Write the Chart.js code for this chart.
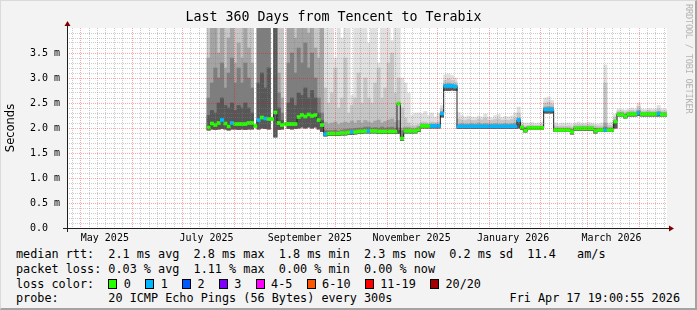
<!DOCTYPE html>
<html>
<head>
<meta charset="utf-8">
<title>Last 360 Days from Tencent to Terabix</title>
<script src="https://cdn.jsdelivr.net/npm/chart.js@4.4.1/dist/chart.umd.min.js"></script>
<style>
  html, body { margin: 0; padding: 0; }
  body { width: 697px; height: 310px; background: #f3f3f3; position: relative; overflow: hidden; }
  #frame { position: absolute; left: 0; top: 0; width: 697px; height: 310px; box-sizing: border-box;
           border-top: 1px solid #dadada; border-left: 1px solid #dadada;
           border-right: 2px solid #a3a3a3; border-bottom: 2px solid #a3a3a3; pointer-events: none; }
  #chart { position: absolute; left: 0; top: 0; }
  #legend { position: absolute; left: 16px; top: 247px; font-family: "DejaVu Sans Mono", monospace;
            font-size: 11.8px; line-height: 14.8px; white-space: pre; color: #000; }
  #legend .box { display: inline-block; box-sizing: border-box; width: 9px; height: 10px; border: 1px solid #000;
                 margin-right: 6.5px; vertical-align: -1px; }
  #stamp { position: absolute; right: 17px; top: 291px; font-family: "DejaVu Sans Mono", monospace;
           font-size: 11.8px; line-height: 14.8px; white-space: pre; color: #000; }
  #watermark { position: absolute; left: 684px; top: 4px; writing-mode: vertical-rl;
               font-family: "DejaVu Sans Mono", monospace; font-size: 8.6px; letter-spacing: -0.2px; color: #b4b4b4; }
</style>
</head>
<body>
<canvas id="chart" width="697" height="245"></canvas>
<div id="legend"></div>
<div id="stamp"></div>
<div id="watermark">RRDTOOL / TOBI OETIKER</div>
<div id="frame"></div>
<script>
"use strict";

/* global Chart */

// ===========================
// DATA
// ===========================
const TITLE = "Last 360 Days from Tencent to Terabix";
const GRAPH_START = new Date(2025, 3, 22, 19, 0, 55);   // 360 days before the stamp
const GRAPH_DAYS = 360;

// column centres, days since GRAPH_START
const DAYS = [
    85, 87, 89, 91, 93, 95, 97, 99, 101, 103, 105, 107, 109, 111,
    113, 115, 117, 119, 121, 123, 125, 127, 129, 131,
    133, 135, 137, 139, 141, 143, 145, 147, 149, 151, 153,
    155, 157, 159, 161, 163, 165, 167, 169, 171, 173, 175, 177,
    179, 181, 183, 185, 187, 189, 191, 193, 195, 197, 199, 201,
    203, 205, 207, 209, 211, 213, 215, 217, 219, 221, 223, 225,
    227, 229, 231, 233,
    235, 237, 239, 241, 243, 245, 247, 249, 251, 253, 255, 257, 259, 261, 263, 265, 267, 269,
    271,
    273, 275, 277, 279, 281, 283, 285,
    287, 289, 291,
    293, 295, 297, 299, 301, 303,
    305, 307, 309, 311, 313, 315, 317,
    319, 321, 323, 325, 327, 329,
    331, 333, 335, 337, 339, 341, 343, 345, 347, 349, 351, 353, 355, 357, 359
];

// median rtt, ms
const MEDIAN = [
    2.01, 2.09, 2.06, 2.10, 2.16, 2.09, 2.03, 2.10, 2.08, 2.08, 2.08, 2.08, 2.10, 2.10,
    2.04, 2.16, 2.21, 2.19, 2.18, 2.18, 2.31, 2.10, 2.06, 2.08,
    2.08, 2.08, 2.08, 2.22, 2.26, 2.23, 2.27, 2.24, 2.26, 2.16, 2.06,
    1.88, 1.89, 1.89, 1.89, 1.89, 1.90, 1.90, 1.91, 1.92, 1.92, 1.93, 1.93,
    1.94, 1.94, 1.94, 1.94, 1.93, 1.93, 1.93, 1.93, 1.93, 1.93, 2.49, 1.79,
    1.94, 1.94, 1.94, 1.94, 1.97, 2.04, 2.04, 2.04, 2.04, 2.04, 2.04, 2.29,
    2.84, 2.84, 2.84, 2.83,
    2.03, 2.03, 2.03, 2.03, 2.03, 2.03, 2.03, 2.03, 2.03, 2.03, 2.03, 2.03, 2.03, 2.03, 2.03, 2.03, 2.03, 2.03,
    2.16,
    2.01, 1.95, 2.00, 2.00, 2.00, 2.00, 2.00,
    2.37, 2.37, 2.37,
    1.96, 1.96, 1.96, 1.96, 1.96, 1.92,
    1.99, 1.99, 1.99, 1.99, 1.99, 1.99, 1.94,
    1.96, 1.96, 1.96, 1.96, 1.96, 2.13,
    2.27, 2.27, 2.23, 2.28, 2.28, 2.28, 2.30, 2.28, 2.28, 2.28, 2.28, 2.28, 2.29, 2.27, 2.27
];

// lost pings out of 20
const LOSS = [
    0, 0, 0, 0, 1, 0, 0, 1, 0, 0, 0, 0, 0, 0,
    0, 1, 0, 1, 0, 0, 0, 0, 0, 0,
    0, 0, 0, 0, 0, 0, 0, 0, 0, 0, 0,
    1, 0, 0, 0, 0, 0, 0, 0, 1, 0, 0, 0,
    0, 1, 0, 0, 0, 0, 0, 0, 0, 0, 0, 0,
    0, 0, 0, 0, 0, 0, 0, 0, 1, 1, 1, 1,
    1, 1, 1, 1,
    1, 1, 1, 1, 1, 1, 1, 1, 1, 1, 1, 1, 1, 1, 1, 1, 1, 1,
    1,
    0, 0, 0, 0, 0, 0, 0,
    1, 1, 1,
    0, 0, 0, 0, 0, 0,
    0, 0, 0, 0, 0, 0, 0,
    0, 0, 1, 0, 0, 0,
    0, 0, 0, 0, 0, 0, 1, 0, 0, 0, 0, 0, 1, 0, 0
];

// smoke: lowest ping, then tops of five bands (dark -> light); null = no smoke
const SMOKE_LO = [
    1.96, 1.98, 1.97, 1.98, 1.99, 1.98, 1.96, 1.98, 1.98, 1.97, 1.98, 1.97, 1.98, 1.98,
    null, 1.98, 2.00, 1.99, 1.98, null, 1.82, 1.97, 1.98, null,
    1.99, 1.98, 1.99, 2.00, 2.02, 2.00, 2.02, 2.00, 2.02, 1.98, 1.93,
    1.84, 1.85, 1.85, 1.85, 1.85, 1.86, 1.86, 1.87, 1.87, 1.88, 1.89, 1.89,
    1.90, 1.90, 1.90, 1.90, 1.89, 1.89, 1.89, 1.89, 1.89, 1.89, 1.89, 1.75,
    1.90, 1.90, 1.90, 1.90, 1.93, 2.00, 2.00, 2.00, 2.00, 2.00, 2.00, 2.22,
    2.75, 2.75, 2.76, 2.75,
    1.99, 1.99, 1.99, 1.99, 1.99, 1.99, 1.99, 1.99, 1.99, 1.99, 1.99, 1.99, 1.99, 1.99, 1.99, 1.99, 1.99, 1.99,
    2.00,
    1.97, 1.92, 1.97, 1.97, 1.97, 1.97, 1.97,
    2.30, 2.30, 2.30,
    1.93, 1.93, 1.93, 1.93, 1.93, 1.88,
    1.95, 1.95, 1.95, 1.95, 1.95, 1.95, 1.90,
    1.93, 1.93, 1.93, 1.93, 1.93, 2.00,
    2.24, 2.24, 2.20, 2.24, 2.24, 2.24, 2.25, 2.24, 2.24, 2.24, 2.24, 2.24, 2.24, 2.24, 2.24
];

const SMOKE_T1 = [
    2.25, 2.35, 2.30, 2.50, 2.60, 2.45, 2.40, 2.50, 2.35, 2.45, 2.40, 2.50, 2.40, 2.30,
    null, 2.90, 3.10, 2.80, 3.20, null, 4.00, 2.40, 2.15, null,
    2.50, 2.60, 2.45, 2.70, 2.65, 2.80, 2.60, 2.75, 2.60, 2.30, 2.15,
    1.92, 1.92, 1.91, 1.92, 1.91, 1.92, 1.93, 1.93, 1.94, 1.94, 1.95, 1.95,
    1.96, 1.96, 1.96, 1.96, 1.95, 1.95, 1.95, 1.95, 1.95, 1.95, 1.95, 1.82,
    1.95, 1.95, 1.95, 1.95, 1.98, 2.04, 2.04, 2.04, 2.04, 2.04, 2.04, 2.27,
    2.82, 2.82, 2.82, 2.80,
    2.03, 2.03, 2.03, 2.03, 2.03, 2.03, 2.03, 2.03, 2.03, 2.03, 2.03, 2.03, 2.03, 2.03, 2.03, 2.03, 2.03, 2.03,
    2.10,
    2.01, 1.98, 2.00, 2.00, 2.00, 2.00, 2.00,
    2.36, 2.36, 2.36,
    1.97, 1.97, 1.97, 1.97, 1.97, 1.94,
    1.99, 1.99, 1.99, 1.99, 1.99, 1.99, 1.96,
    1.97, 1.97, 1.98, 1.97, 1.97, 2.10,
    2.27, 2.27, 2.25, 2.28, 2.28, 2.28, 2.30, 2.28, 2.28, 2.28, 2.28, 2.28, 2.29, 2.27, 2.27
];

const SMOKE_T2 = [
    2.60, 2.90, 3.20, 3.00, 3.30, 2.80, 3.10, 3.40, 2.90, 3.20, 2.90, 3.30, 3.00, 2.80,
    null, 4.00, 4.00, 4.00, 4.00, null, 4.00, 2.70, 2.30, null,
    3.30, 3.50, 3.10, 3.60, 3.30, 3.70, 3.20, 3.50, 3.00, 2.60, 2.30,
    1.96, 1.95, 1.95, 1.96, 1.94, 1.96, 1.97, 1.98, 1.98, 1.99, 2.00, 2.00,
    2.02, 2.02, 2.00, 2.01, 2.00, 2.02, 2.00, 2.01, 2.02, 2.00, 2.00, 1.95,
    1.98, 1.98, 1.97, 1.97, 2.00, 2.06, 2.06, 2.06, 2.06, 2.06, 2.06, 2.30,
    2.86, 2.86, 2.86, 2.85,
    2.06, 2.06, 2.06, 2.06, 2.06, 2.06, 2.06, 2.06, 2.06, 2.06, 2.06, 2.06, 2.06, 2.06, 2.06, 2.06, 2.06, 2.06,
    2.15,
    2.03, 2.00, 2.02, 2.02, 2.02, 2.02, 2.02,
    2.40, 2.40, 2.40,
    1.99, 1.99, 1.99, 1.99, 1.99, 1.97,
    2.01, 2.01, 2.01, 2.01, 2.01, 2.01, 1.99,
    1.99, 1.99, 2.02, 1.99, 1.99, 2.14,
    2.29, 2.29, 2.27, 2.30, 2.30, 2.30, 2.33, 2.30, 2.30, 2.30, 2.30, 2.30, 2.31, 2.29, 2.29
];

const SMOKE_T3 = [
    3.40, 4.00, 4.00, 3.50, 4.00, 3.20, 3.80, 4.00, 3.30, 3.70, 3.40, 4.00, 3.60, 3.30,
    null, 4.00, 4.00, 4.00, 4.00, null, 4.00, 3.10, 2.60, null,
    4.00, 4.00, 3.80, 4.00, 4.00, 4.00, 3.90, 4.00, 3.60, 3.40, 4.00,
    2.12, 2.08, 2.10, 2.12, 2.07, 2.10, 2.12, 2.10, 2.14, 2.10, 2.15, 2.10,
    2.15, 2.12, 2.10, 2.14, 2.16, 2.10, 2.13, 2.16, 2.18, 2.12, 2.15, 2.00,
    2.02, 2.02, 2.00, 2.00, 2.03, 2.08, 2.08, 2.07, 2.08, 2.08, 2.08, 2.33,
    2.88, 2.90, 2.88, 2.86,
    2.08, 2.09, 2.08, 2.08, 2.09, 2.08, 2.10, 2.08, 2.09, 2.08, 2.08, 2.09, 2.08, 2.08, 2.09, 2.08, 2.09, 2.10,
    2.20,
    2.04, 2.01, 2.03, 2.03, 2.03, 2.03, 2.03,
    2.42, 2.43, 2.42,
    2.00, 2.00, 2.00, 2.00, 2.00, 1.98,
    2.03, 2.03, 2.03, 2.03, 2.03, 2.03, 2.00,
    2.00, 2.00, 2.10, 2.01, 2.01, 2.16,
    2.31, 2.31, 2.28, 2.31, 2.32, 2.31, 2.36, 2.31, 2.31, 2.32, 2.31, 2.31, 2.33, 2.31, 2.31
];

const SMOKE_T4 = [
    4.00, 4.00, 4.00, 4.00, 4.00, 4.00, 4.00, 4.00, 4.00, 4.00, 4.00, 4.00, 4.00, 4.00,
    null, 4.00, 4.00, 4.00, 4.00, null, 4.00, 4.00, 4.00, null,
    4.00, 4.00, 4.00, 4.00, 4.00, 4.00, 4.00, 4.00, 4.00, 4.00, 4.00,
    2.80, 2.50, 2.70, 3.20, 2.40, 2.60, 3.40, 2.30, 2.45, 2.60, 3.10, 2.50,
    3.00, 2.60, 2.50, 2.90, 3.20, 2.60, 2.80, 3.30, 3.50, 2.70, 3.00, 2.40,
    2.20, 2.10, 2.05, 2.05, 2.07, 2.12, 2.12, 2.10, 2.12, 2.11, 2.12, 2.38,
    2.95, 2.98, 2.95, 2.92,
    2.18, 2.16, 2.15, 2.17, 2.15, 2.15, 2.18, 2.16, 2.20, 2.15, 2.15, 2.17, 2.18, 2.15, 2.16, 2.15, 2.17, 2.20,
    2.30,
    2.07, 2.04, 2.05, 2.06, 2.05, 2.05, 2.07,
    2.50, 2.52, 2.48,
    2.04, 2.03, 2.04, 2.03, 2.04, 2.02,
    2.06, 2.07, 2.06, 2.06, 2.07, 2.06, 2.04,
    2.04, 2.04, 2.90, 2.05, 2.05, 2.22,
    2.34, 2.34, 2.32, 2.34, 2.35, 2.34, 2.43, 2.34, 2.34, 2.35, 2.34, 2.34, 2.38, 2.34, 2.34
];

const SMOKE_T5 = [
    4.00, 4.00, 4.00, 4.00, 4.00, 4.00, 4.00, 4.00, 4.00, 4.00, 4.00, 4.00, 4.00, 4.00,
    null, 4.00, 4.00, 4.00, 4.00, null, 4.00, 4.00, 4.00, null,
    4.00, 4.00, 4.00, 4.00, 4.00, 4.00, 4.00, 4.00, 4.00, 4.00, 4.00,
    4.00, 4.00, 4.00, 3.40, 4.00, 3.80, 4.00, 4.00, 2.65, 4.00, 4.00, 4.00,
    4.00, 3.70, 4.00, 4.00, 3.30, 4.00, 4.00, 4.00, 3.75, 4.00, 4.00, 3.00,
    2.90, 2.70, 2.25, 2.30, 2.30, 2.28, 2.33, 2.25, 2.30, 2.22, 2.30, 2.45,
    3.06, 3.08, 3.05, 3.00,
    2.31, 2.25, 2.22, 2.24, 2.22, 2.21, 2.24, 2.22, 2.28, 2.22, 2.20, 2.25, 2.27, 2.21, 2.23, 2.22, 2.24, 2.30,
    2.42,
    2.12, 2.10, 2.10, 2.11, 2.09, 2.10, 2.12,
    2.60, 2.62, 2.55,
    2.10, 2.08, 2.10, 2.09, 2.10, 2.08,
    2.10, 2.12, 2.09, 2.10, 2.11, 2.10, 2.08,
    2.08, 2.10, 3.26, 2.10, 2.12, 2.27,
    2.38, 2.37, 2.36, 2.38, 2.40, 2.38, 2.50, 2.38, 2.37, 2.39, 2.38, 2.38, 2.45, 2.38, 2.38
];

// axis text
const Y_MAX = 4.0;
const Y_LABELS = ["0.0  ", "0.5 m", "1.0 m", "1.5 m", "2.0 m", "2.5 m", "3.0 m", "3.5 m"];
const X_LABEL_MONTHS = [[2025, 4], [2025, 6], [2025, 8], [2025, 10], [2026, 0], [2026, 2]];
const X_LABELS = ["May 2025", "July 2025", "September 2025", "November 2025", "January 2026", "March 2026"];
const MINOR_DAYS_OF_MONTH = [6, 11, 16, 21, 26];

// legend text
const LOSS_LABELS = ["0", "1", "2", "3", "4-5", "6-10", "11-19", "20/20"];
const LOSS_COLORS = ["#26ff00", "#00b8ff", "#0059ff", "#7e00ff", "#ff00ff", "#ff5500", "#ff0000", "#a10000"];
const LEGEND_RTT = "median rtt:  2.1 ms avg  2.8 ms max  1.8 ms min  2.3 ms now  0.2 ms sd  11.4   am/s";
const LEGEND_LOSS = "packet loss: 0.03 % avg  1.11 % max  0.00 % min  0.00 % now";
const LEGEND_PROBE = "probe:       20 ICMP Echo Pings (56 Bytes) every 300s";
const STAMP = "Fri Apr 17 19:00:55 2026";

// ===========================
// STYLE
// ===========================
const SMOKE_BANDS = [SMOKE_T1, SMOKE_T2, SMOKE_T3, SMOKE_T4, SMOKE_T5];
const SMOKE_SHADES = ["#575757", "#7e7e7e", "#a4a4a4", "#c6c6c6", "#e0e0e0"];
const GRID_MINOR = "rgba(128, 128, 128, 0.40)";
const GRID_MAJOR = "rgba(255, 0, 0, 0.35)";
const AXIS_COLOR = "#202020";
const ARROW_COLOR = "#7f0000";
const MONO = "DejaVu Sans Mono";

Chart.defaults.font.family = MONO;
Chart.defaults.color = "#000";

// ===========================
// HELPERS
// ===========================
const dayOf = d => (d - GRAPH_START) / 86400000;

function monthTicks() {
    const ticks = [];
    for (let y = 2025; y <= 2026; y++) {
        for (let m = 0; m < 12; m++) {
            for (const dom of [1].concat(MINOR_DAYS_OF_MONTH)) {
                const v = dayOf(new Date(y, m, dom));
                if (v > 0 && v < GRAPH_DAYS) ticks.push({ value: v, major: dom === 1 });
            }
        }
    }
    return ticks;
}

function smokeBand(tops) {
    return DAYS.map((d, i) => ({
        x: d,
        y: (SMOKE_LO[i] === null || tops[i] === null) ? null : [SMOKE_LO[i], tops[i]]
    }));
}

// all bars share one stack slot so they overlap at full column width
const barCommon = {
    type: "bar",
    stack: "columns",
    barPercentage: 1,
    categoryPercentage: 1,
    barThickness: "flex",
    borderWidth: 0,
    xAxisID: "x",
    yAxisID: "y"
};

// ✅ White canvas, axis lines and the little rrdtool arrows
const rrdFrame = {
    id: "rrdFrame",
    beforeDraw(chart) {
        const { ctx, chartArea: a } = chart;
        ctx.save();
        ctx.fillStyle = "#ffffff";
        ctx.fillRect(a.left, a.top, a.right - a.left, a.bottom - a.top);
        ctx.restore();
    },
    afterDraw(chart) {
        const { ctx, chartArea: a } = chart;
        const x0 = Math.round(a.left) + 0.5;
        const y0 = Math.round(a.bottom) + 0.5;
        ctx.save();
        ctx.strokeStyle = AXIS_COLOR;
        ctx.lineWidth = 1;
        ctx.beginPath();
        ctx.moveTo(a.left - 4, y0);
        ctx.lineTo(a.right + 2, y0);
        ctx.moveTo(x0, a.bottom + 4);
        ctx.lineTo(x0, a.top - 2);
        ctx.stroke();
        ctx.fillStyle = ARROW_COLOR;
        ctx.beginPath();
        ctx.moveTo(a.right + 7, y0);
        ctx.lineTo(a.right + 2, y0 - 3);
        ctx.lineTo(a.right + 2, y0 + 3);
        ctx.closePath();
        ctx.fill();
        ctx.beginPath();
        ctx.moveTo(x0, a.top - 7);
        ctx.lineTo(x0 - 3, a.top - 2);
        ctx.lineTo(x0 + 3, a.top - 2);
        ctx.closePath();
        ctx.fill();
        ctx.restore();
    }
};

// ===========================
// CHART
// ===========================
const ctx = document.getElementById("chart").getContext("2d");

const smokeSets = SMOKE_BANDS.map((tops, b) => Object.assign({}, barCommon, {
    label: "smoke " + (b + 1),
    order: 2 + b,
    data: smokeBand(tops),
    backgroundColor: SMOKE_SHADES[b]
}));

new Chart(ctx, {
    type: "bar",
    data: {
        datasets: [
            Object.assign({}, barCommon, {
                label: "median",
                order: 0,
                data: DAYS.map((d, i) => ({ x: d, y: [MEDIAN[i] - 0.03, MEDIAN[i] + 0.03] })),
                backgroundColor: LOSS.map(l => LOSS_COLORS[l])
            }),
            {
                type: "line",
                label: "median line",
                order: 1,
                data: DAYS.map((d, i) => ({ x: d, y: MEDIAN[i] })),
                stepped: "middle",
                borderColor: AXIS_COLOR,
                borderWidth: 1,
                pointRadius: 0,
                fill: false,
                xAxisID: "x",
                yAxisID: "y"
            }
        ].concat(smokeSets)
    },
    options: {
        responsive: false,
        animation: false,
        events: [],
        layout: { padding: { left: 0, right: 30, top: 0, bottom: 0 } },
        plugins: {
            legend: { display: false },
            tooltip: { enabled: false },
            title: {
                display: true,
                text: TITLE,
                color: "#000",
                font: { family: MONO, size: 13.3, weight: "normal", lineHeight: "16px" },
                padding: { top: 10, bottom: 2 }
            }
        },
        scales: {
            x: {
                type: "linear",
                position: "bottom",
                min: 0,
                max: GRAPH_DAYS,
                offset: false,
                afterBuildTicks: s => { s.ticks = monthTicks(); },
                afterFit: s => { s.height = 0; },
                ticks: { display: false },
                grid: {
                    offset: false,
                    drawTicks: false,
                    z: 1,
                    color: c => (c.tick && c.tick.major ? GRID_MAJOR : GRID_MINOR)
                },
                border: { display: false, dash: [1, 1] }
            },
            xl: {
                type: "linear",
                position: "bottom",
                min: 0,
                max: GRAPH_DAYS,
                offset: false,
                afterBuildTicks: s => {
                    s.ticks = X_LABEL_MONTHS.map(([y, m]) => ({ value: dayOf(new Date(y, m, 1)) + 14.5 }));
                },
                afterFit: s => { s.height = 17; },
                ticks: {
                    autoSkip: false,
                    maxRotation: 0,
                    padding: 4,
                    font: { family: MONO, size: 10 },
                    callback: (v, i) => X_LABELS[i]
                },
                grid: { display: false, drawTicks: false, offset: false },
                border: { display: false }
            },
            y: {
                type: "linear",
                position: "left",
                min: 0,
                max: Y_MAX,
                stacked: false,
                afterBuildTicks: s => {
                    const ticks = [];
                    for (let k = 0; k < Y_MAX * 10; k++) ticks.push({ value: k / 10 });
                    s.ticks = ticks;
                },
                afterFit: s => { s.width = 67; },
                ticks: {
                    autoSkip: false,
                    padding: 7,
                    font: { family: MONO, size: 10 },
                    callback: v => {
                        const k = Math.round(v * 10);
                        return k % 5 === 0 ? Y_LABELS[k / 5] : "";
                    }
                },
                grid: {
                    drawTicks: false,
                    z: 1,
                    color: c => (Math.round(c.tick.value * 10) % 5 === 0 ? GRID_MAJOR : GRID_MINOR)
                },
                border: { display: false, dash: [1, 1] },
                title: {
                    display: true,
                    text: "Seconds",
                    color: "#000",
                    font: { family: "DejaVu Sans", size: 11.5 },
                    padding: { top: 4, bottom: 0 }
                }
            }
        }
    },
    plugins: [rrdFrame]
});

// ===========================
// LEGEND (rrdtool comment lines)
// ===========================
const legend = document.getElementById("legend");
const lossRow = document.createElement("div");
lossRow.textContent = "loss color:  ";
LOSS_LABELS.forEach((label, i) => {
    const box = document.createElement("span");
    box.className = "box";
    box.style.background = LOSS_COLORS[i];
    lossRow.appendChild(box);
    lossRow.appendChild(document.createTextNode(label + (i < LOSS_LABELS.length - 1 ? "  " : "")));
});
[LEGEND_RTT, LEGEND_LOSS].forEach(t => {
    const row = document.createElement("div");
    row.textContent = t;
    legend.appendChild(row);
});
legend.appendChild(lossRow);
const probeRow = document.createElement("div");
probeRow.textContent = LEGEND_PROBE;
legend.appendChild(probeRow);
document.getElementById("stamp").textContent = STAMP;
</script>
</body>
</html>
